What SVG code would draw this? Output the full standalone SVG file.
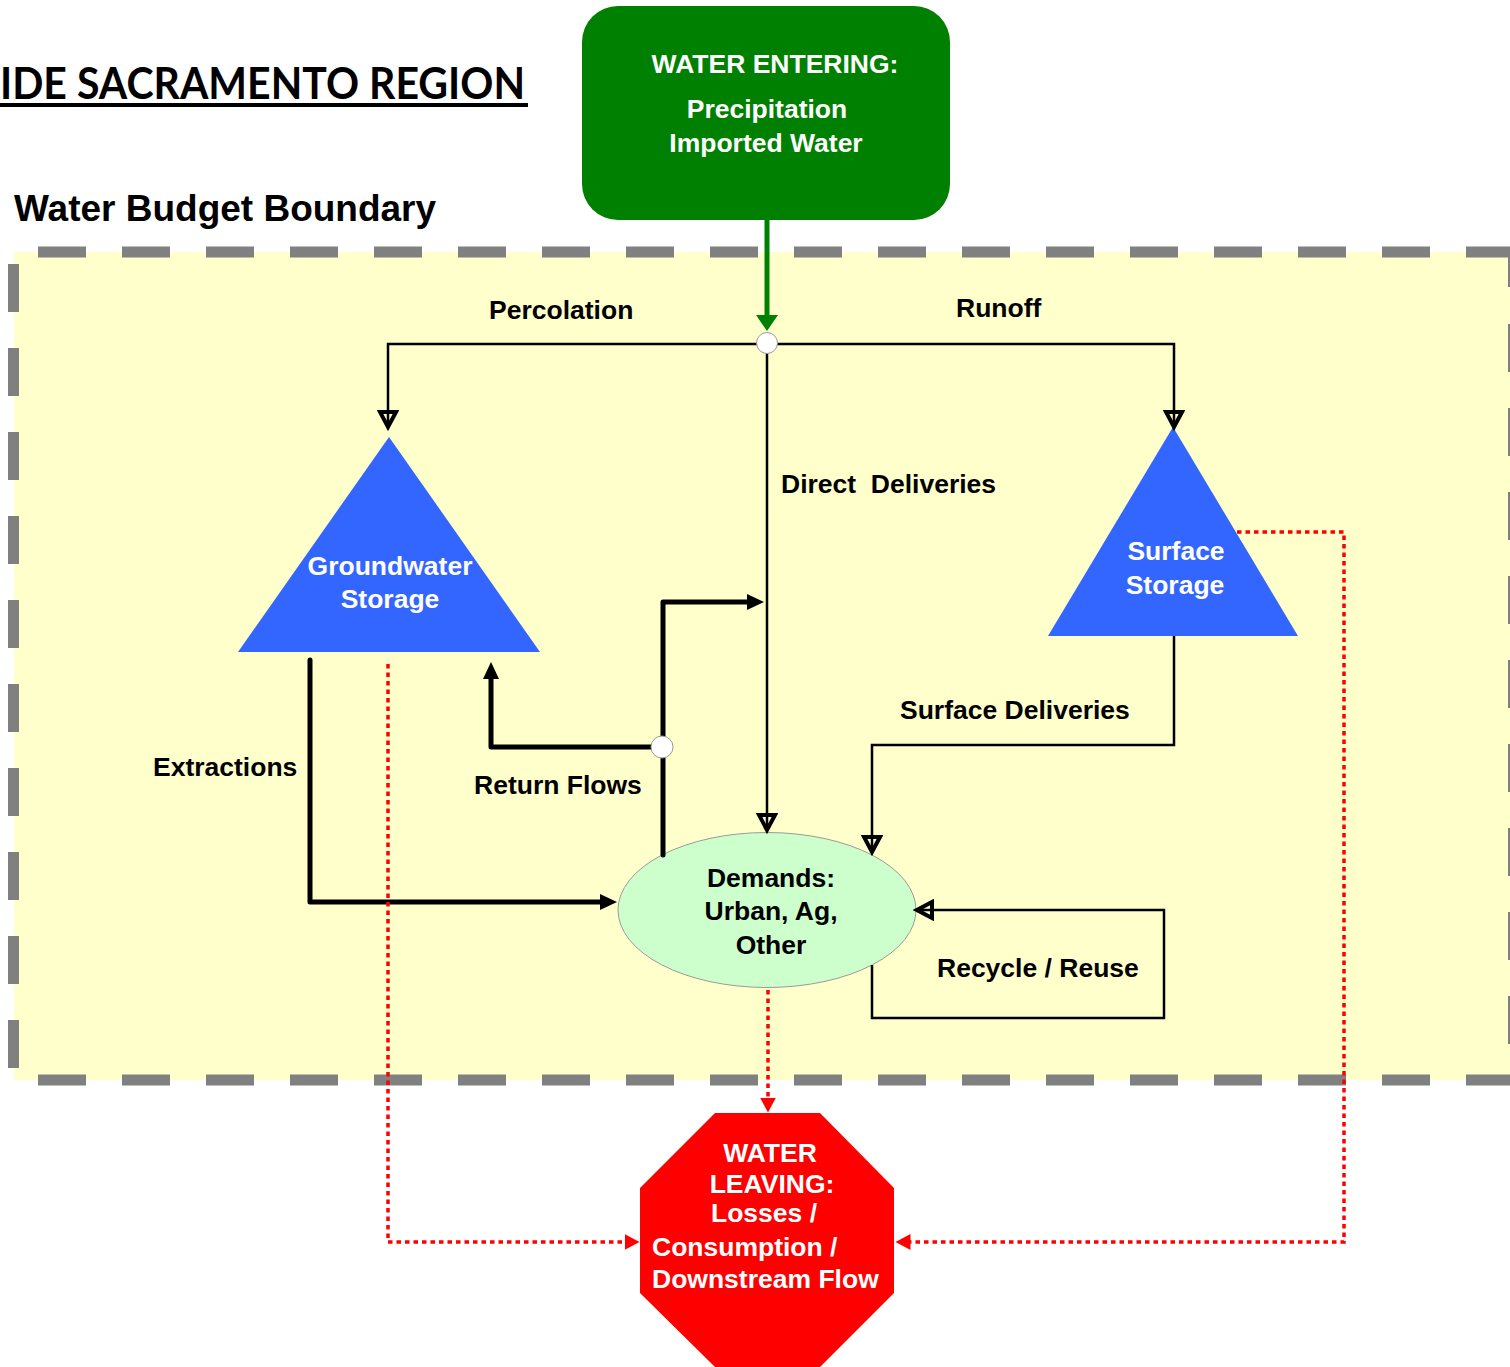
<svg xmlns="http://www.w3.org/2000/svg" width="1510" height="1367" viewBox="0 0 1510 1367">
<style>
  .lbl { font-family: "Liberation Sans", Arial, sans-serif; font-weight: bold; font-size: 26.5px; fill: #000; }
  .wht { font-family: "Liberation Sans", Arial, sans-serif; font-weight: bold; font-size: 26.5px; fill: #fff; }
  .dash { stroke: #808080; stroke-width: 11; stroke-dasharray: 48 36; fill: none; }
  .thin { fill: none; stroke: #000; stroke-width: 2.5; }
  .thick { fill: none; stroke: #000; stroke-width: 5; stroke-linejoin: round; stroke-linecap: round; }
  .red { fill: none; stroke: #ff0000; stroke-width: 3.5; stroke-dasharray: 4.5 4; }
  .junc { fill: #fff; stroke: #999; stroke-width: 1; }
</style>
<defs>
  <marker id="openArrow" markerUnits="userSpaceOnUse" markerWidth="22" markerHeight="22" viewBox="-3 -3 22 22" refX="15" refY="8" orient="auto">
    <path d="M0,0 L15,8 L0,16 Z" fill="none" stroke="#000" stroke-width="4" stroke-linejoin="miter"/>
  </marker>
  <marker id="solidArrow" markerUnits="userSpaceOnUse" markerWidth="18" markerHeight="16" viewBox="0 0 18 16" refX="1" refY="8" orient="auto">
    <path d="M0,0 L17,8 L0,16 Z" fill="#000"/>
  </marker>
  <marker id="redArrow" markerUnits="userSpaceOnUse" markerWidth="16" markerHeight="16" viewBox="0 0 16 16" refX="0.5" refY="8" orient="auto">
    <path d="M0,0 L15,8 L0,16 Z" fill="#ff0000"/>
  </marker>
  <marker id="greenArrow" markerUnits="userSpaceOnUse" markerWidth="17" markerHeight="24" viewBox="0 0 17 24" refX="1" refY="12" orient="auto">
    <path d="M0,1 L16,12 L0,23 Z" fill="#008000"/>
  </marker>
</defs>

<rect x="0" y="0" width="1510" height="1367" fill="#fff"/>

<g id="title">
  <text x="0" y="99" font-family="Lato, 'Open Sans', sans-serif" font-weight="bold" font-size="44" textLength="525" lengthAdjust="spacingAndGlyphs" fill="#000">IDE SACRAMENTO REGION</text>
  <rect x="0" y="103" width="528" height="4" fill="#000"/>
</g>

<g id="boundary">
  <rect x="14" y="252" width="1496" height="828" fill="#ffffcc"/>
  <line class="dash" x1="38" y1="252" x2="1510" y2="252"/>
  <line class="dash" x1="38" y1="1080" x2="1510" y2="1080"/>
  <line class="dash" x1="13.5" y1="264" x2="13.5" y2="1070"/>
  <line class="dash" x1="1513.5" y1="324" x2="1513.5" y2="1080"/>
  <line class="dash" x1="1513.5" y1="252" x2="1513.5" y2="287" style="stroke-dasharray:none"/>
  <text class="lbl" x="14" y="221" style="font-size:37px">Water Budget Boundary</text>
</g>

<g id="water-entering">
  <rect x="582" y="6" width="368" height="214" rx="36" ry="36" fill="#008000"/>
  <text class="wht" x="775" y="73" text-anchor="middle">WATER ENTERING:</text>
  <text class="wht" x="767" y="118" text-anchor="middle">Precipitation</text>
  <text class="wht" x="766" y="152" text-anchor="middle">Imported Water</text>
</g>

<g id="groundwater-storage">
  <polygon points="389,437 238,652 540,652" fill="#3366ff"/>
  <text class="wht" x="390" y="575" text-anchor="middle">Groundwater</text>
  <text class="wht" x="390" y="608" text-anchor="middle">Storage</text>
</g>

<g id="surface-storage">
  <polygon points="1173,427 1048,636 1298,636" fill="#3366ff"/>
  <text class="wht" x="1176" y="560" text-anchor="middle">Surface</text>
  <text class="wht" x="1175" y="594" text-anchor="middle">Storage</text>
</g>

<g id="demands">
  <ellipse cx="767" cy="910" rx="149" ry="77.5" fill="#ccffcc" stroke="#9a9a9a" stroke-width="1"/>
  <text class="lbl" x="771" y="887" text-anchor="middle">Demands:</text>
  <text class="lbl" x="771" y="920" text-anchor="middle">Urban, Ag,</text>
  <text class="lbl" x="771" y="954" text-anchor="middle">Other</text>
</g>

<g id="water-leaving">
  <polygon points="715,1113 820,1113 894,1188 894,1293 820,1367 715,1367 640,1293 640,1188" fill="#ff0000"/>
  <text class="wht" x="770" y="1162" text-anchor="middle">WATER</text>
  <text class="wht" x="772" y="1193" text-anchor="middle">LEAVING:</text>
  <text class="wht" x="711" y="1222">Losses /</text>
  <text class="wht" x="652" y="1256">Consumption /</text>
  <text class="wht" x="652" y="1288">Downstream Flow</text>
</g>

<g id="connectors">
  <path d="M767,220 V316" fill="none" stroke="#008000" stroke-width="5" marker-end="url(#greenArrow)"/>
  <path class="thin" d="M767,344 H388 V427" marker-end="url(#openArrow)"/>
  <path class="thin" d="M767,344 H1174 V427" marker-end="url(#openArrow)"/>
  <path class="thin" d="M767,344 V830" marker-end="url(#openArrow)"/>
  <path class="thin" d="M1174,636 V745 H872 V852" marker-end="url(#openArrow)"/>
  <path class="thin" d="M872,965 V1018 H1164 V910 H917" marker-end="url(#openArrow)"/>
  <path class="thick" d="M310,660 V902 H601" marker-end="url(#solidArrow)"/>
  <path class="thick" d="M663,855 V747 H491 V678" marker-end="url(#solidArrow)"/>
  <path class="thick" d="M663,747 V602 H748" marker-end="url(#solidArrow)"/>
  <path class="red" d="M768,990 V1098" marker-end="url(#redArrow)"/>
  <path class="red" d="M388,664 V1242 H625" marker-end="url(#redArrow)"/>
  <path class="red" d="M1237,532 H1344 V1242 H910" marker-end="url(#redArrow)"/>
  <circle class="junc" cx="767" cy="343" r="10.5"/>
  <circle class="junc" cx="662" cy="747" r="11"/>
</g>

<g id="labels">
  <text class="lbl" x="489" y="319">Percolation</text>
  <text class="lbl" x="956" y="317">Runoff</text>
  <text class="lbl" x="781" y="493" style="white-space:pre" xml:space="preserve">Direct  Deliveries</text>
  <text class="lbl" x="900" y="719">Surface Deliveries</text>
  <text class="lbl" x="153" y="776">Extractions</text>
  <text class="lbl" x="474" y="794">Return Flows</text>
  <text class="lbl" x="937" y="977">Recycle / Reuse</text>
</g>
</svg>
